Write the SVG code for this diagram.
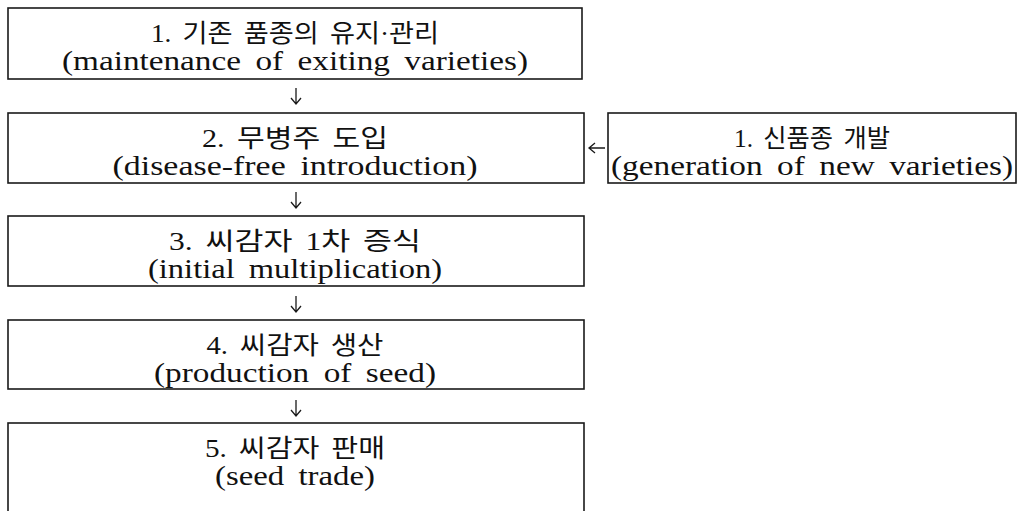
<svg xmlns="http://www.w3.org/2000/svg" width="1025" height="511" viewBox="0 0 1025 511">
  <style>
    .box { fill: #ffffff; stroke: #1a1a1a; stroke-width: 1.6; }
    .t { font-family: "Liberation Serif", "Noto Sans CJK KR", serif; fill: #111111; text-anchor: middle; }
    .ko { font-size: 25px; word-spacing: 4px; }
    .en { font-size: 27px; word-spacing: 5px; }
    .arr { fill: none; stroke: #1a1a1a; stroke-width: 1.3; }
  </style>
  <rect width="1025" height="511" fill="#ffffff"/>

  <!-- step 1: maintenance -->
  <g id="node-maintenance">
    <rect class="box" x="8" y="8" width="574" height="71"/>
    <text class="t ko" x="295" y="42" textLength="288" lengthAdjust="spacingAndGlyphs">1. 기존 품종의 유지·관리</text>
    <text class="t en" x="295" y="70" textLength="466" lengthAdjust="spacingAndGlyphs">(maintenance of exiting varieties)</text>
  </g>

  <!-- step 2: disease-free introduction -->
  <g id="node-introduction">
    <rect class="box" x="8" y="113" width="576" height="70"/>
    <text class="t ko" x="295" y="147" textLength="186" lengthAdjust="spacingAndGlyphs">2. 무병주 도입</text>
    <text class="t en" x="295" y="175" textLength="365" lengthAdjust="spacingAndGlyphs">(disease-free introduction)</text>
  </g>

  <!-- side input: new varieties -->
  <g id="node-new-varieties">
    <rect class="box" x="608" y="113" width="408" height="70"/>
    <text class="t ko" x="812" y="147" textLength="156" lengthAdjust="spacingAndGlyphs">1. 신품종 개발</text>
    <text class="t en" x="812" y="175" textLength="402" lengthAdjust="spacingAndGlyphs">(generation of new varieties)</text>
  </g>

  <!-- step 3: initial multiplication -->
  <g id="node-multiplication">
    <rect class="box" x="8" y="216" width="576" height="70"/>
    <text class="t ko" x="295" y="250" textLength="252" lengthAdjust="spacingAndGlyphs">3. 씨감자 1차 증식</text>
    <text class="t en" x="295" y="278" textLength="294" lengthAdjust="spacingAndGlyphs">(initial multiplication)</text>
  </g>

  <!-- step 4: production of seed -->
  <g id="node-production">
    <rect class="box" x="8" y="320" width="576" height="69"/>
    <text class="t ko" x="295" y="354" textLength="177" lengthAdjust="spacingAndGlyphs">4. 씨감자 생산</text>
    <text class="t en" x="295" y="382" textLength="282" lengthAdjust="spacingAndGlyphs">(production of seed)</text>
  </g>

  <!-- step 5: seed trade -->
  <g id="node-trade">
    <rect class="box" x="8" y="423" width="576" height="100"/>
    <text class="t ko" x="295" y="457" textLength="180" lengthAdjust="spacingAndGlyphs">5. 씨감자 판매</text>
    <text class="t en" x="295" y="485" textLength="160" lengthAdjust="spacingAndGlyphs">(seed trade)</text>
  </g>

  <!-- connectors -->
  <g id="connectors">
    <path class="arr" d="M296 88 V104 M291 98 L296 104 L301 98"/>
    <path class="arr" d="M296 192 V208 M291 202 L296 208 L301 202"/>
    <path class="arr" d="M296 296 V312 M291 306 L296 312 L301 306"/>
    <path class="arr" d="M296 400 V416 M291 410 L296 416 L301 410"/>
    <path class="arr" d="M605 148 H589 M595 143 L589 148 L595 153"/>
  </g>
</svg>
